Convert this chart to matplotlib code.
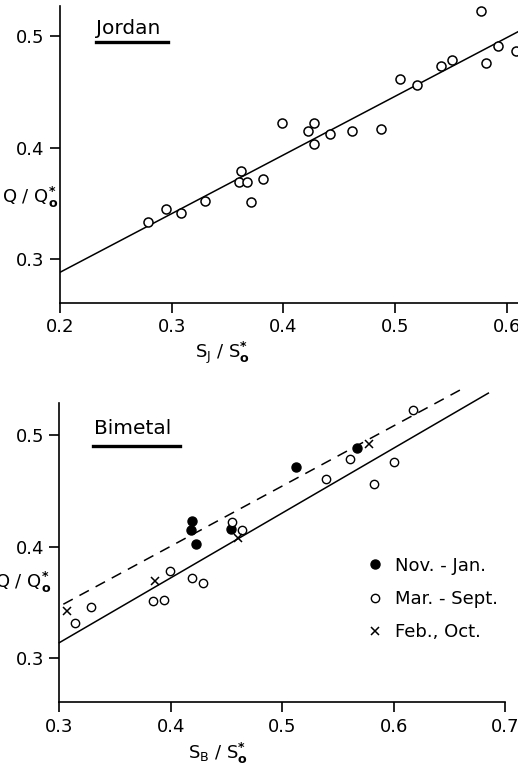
import matplotlib.pyplot as plt

# Jordan recorder (top panel)
jordan_x = [0.279, 0.295, 0.308, 0.330, 0.360, 0.362, 0.367, 0.371, 0.382, 0.399,
            0.422, 0.427, 0.427, 0.442, 0.461, 0.487, 0.504, 0.520, 0.541, 0.551,
            0.577, 0.581, 0.592, 0.608]
jordan_y = [0.333, 0.345, 0.341, 0.352, 0.369, 0.379, 0.369, 0.351, 0.372, 0.422,
            0.415, 0.422, 0.403, 0.412, 0.415, 0.417, 0.462, 0.456, 0.473, 0.479,
            0.523, 0.476, 0.491, 0.487]
jordan_fit_x = [0.2, 0.61]
jordan_fit_y = [0.288, 0.504]

# Bimetal recorder (bottom panel), by season
nov_jan_x = [0.419, 0.418, 0.423, 0.454, 0.512, 0.567]
nov_jan_y = [0.423, 0.415, 0.403, 0.416, 0.472, 0.489]
mar_sep_x = [0.314, 0.328, 0.384, 0.394, 0.399, 0.419, 0.429, 0.455, 0.464, 0.539,
             0.561, 0.582, 0.600, 0.617]
mar_sep_y = [0.332, 0.346, 0.351, 0.352, 0.378, 0.372, 0.368, 0.422, 0.415, 0.461,
             0.479, 0.456, 0.476, 0.523]
feb_oct_x = [0.307, 0.386, 0.460, 0.578]
feb_oct_y = [0.342, 0.369, 0.408, 0.492]
bim_fit_x = [0.3, 0.685]
bim_fit_y = [0.314, 0.538]
bim_winter_x = [0.3036, 0.66]
bim_winter_y = [0.3485, 0.541]

plt.rcParams['font.family'] = 'DejaVu Sans'
plt.rcParams['mathtext.fontset'] = 'dejavusans'
fs = 13

fig = plt.figure(figsize=(5.18, 7.65), dpi=100)
ax1 = fig.add_axes([0.1158, 0.604, 0.8842, 0.388])
ax2 = fig.add_axes([0.1145, 0.082, 0.8605, 0.391])

ylab = r'Q / Q$_{\mathbf{o}}^{\mathbf{*}}$'

for ax in (ax1, ax2):
    for s in ('top', 'right'):
        ax.spines[s].set_visible(False)
    for s in ('left', 'bottom'):
        ax.spines[s].set_linewidth(1.2)
    ax.tick_params(direction='out', length=7, width=1.2, labelsize=fs, pad=4)
    ax.set_yticks([0.3, 0.4, 0.5])

# top panel
ax1.plot(jordan_fit_x, jordan_fit_y, color='black', lw=1.1)
ax1.plot(jordan_x, jordan_y, 'o', mfc='white', mec='black', mew=1.1, ms=6.5,
         linestyle='none')
ax1.set_xlim(0.2, 0.61)
ax1.set_ylim(0.2605, 0.527)
ax1.set_xticks([0.2, 0.3, 0.4, 0.5, 0.6])
ax1.set_xlabel(r'S$_\mathrm{J}$ / S$_{\mathbf{o}}^{\mathbf{*}}$', fontsize=fs)
ax1.xaxis.set_label_coords(0.354, -0.125)
ax1.set_ylabel(ylab, fontsize=fs, rotation=0, va='center')
ax1.yaxis.set_label_coords(-0.066, 0.357)
ax1.text(0.079, 0.926, 'Jordan', transform=ax1.transAxes, fontsize=14.5,
         ha='left', va='center')
ax1.plot([0.079, 0.236], [0.879, 0.879], transform=ax1.transAxes,
         color='black', lw=2.4, clip_on=False)

# bottom panel
ax2.plot(bim_fit_x, bim_fit_y, color='black', lw=1.1, clip_on=False)
ax2.plot(bim_winter_x, bim_winter_y, color='black', lw=1.1,
         dashes=(7, 5), clip_on=False)
ax2.plot(nov_jan_x, nov_jan_y, 'o', color='black', ms=6.5, linestyle='none',
         label='Nov. - Jan.')
ax2.plot(mar_sep_x, mar_sep_y, 'o', mfc='white', mec='black', mew=1.0, ms=6,
         linestyle='none', label='Mar. - Sept.')
ax2.plot(feb_oct_x, feb_oct_y, 'x', color='black', mew=1.1, ms=6,
         linestyle='none', label='Feb., Oct.')
ax2.set_xlim(0.3, 0.7)
ax2.set_ylim(0.2605, 0.529)
ax2.set_xticks([0.3, 0.4, 0.5, 0.6, 0.7])
ax2.set_xlabel(r'S$_\mathrm{B}$ / S$_{\mathbf{o}}^{\mathbf{*}}$', fontsize=fs)
ax2.xaxis.set_label_coords(0.356, -0.13)
ax2.set_ylabel(ylab, fontsize=fs, rotation=0, va='center')
ax2.yaxis.set_label_coords(-0.081, 0.399)
ax2.text(0.078, 0.914, 'Bimetal', transform=ax2.transAxes, fontsize=14.5,
         ha='left', va='center')
ax2.plot([0.076, 0.271], [0.858, 0.858], transform=ax2.transAxes,
         color='black', lw=2.4, clip_on=False)
ax2.legend(loc='center left', bbox_to_anchor=(0.676, 0.345), frameon=False,
           fontsize=fs, handlelength=0.6, handletextpad=0.8, labelspacing=0.85,
           borderpad=0)

fig.savefig('out.png', dpi=100)
